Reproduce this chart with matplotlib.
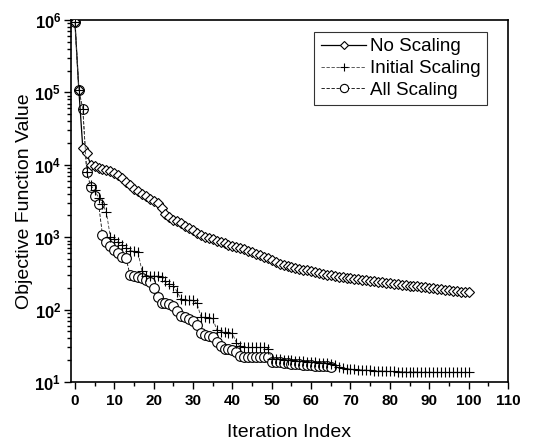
import numpy as np
import matplotlib
matplotlib.use('Agg')
import matplotlib.pyplot as plt
from matplotlib.ticker import LogLocator, FixedLocator, FuncFormatter, NullFormatter

plt.rcParams['font.family'] = ['Liberation Sans', 'DejaVu Sans']
plt.rcParams['mathtext.fontset'] = 'custom'
plt.rcParams['mathtext.rm'] = 'Liberation Sans'
plt.rcParams['mathtext.bf'] = 'Liberation Sans:bold'

# values
no_scaling = [9.5e5, 1.07e5, 1.7e4, 1.45e4, 1.0e4, 9.5e3, 9.0e3, 8.7e3, 8.5e3, 8.2e3,
              7.8e3, 7.2e3, 6.5e3, 5.8e3, 5.2e3, 4.7e3, 4.3e3, 4.0e3, 3.7e3, 3.4e3,
              3.2e3, 3.0e3, 2.5e3, 2.1e3, 1.9e3, 1.75e3, 1.65e3, 1.55e3, 1.45e3, 1.35e3,
              1.25e3, 1.15e3, 1.08e3, 1.02e3, 980, 940, 900, 860, 820, 790,
              760, 730, 700, 680, 650, 620, 590, 565, 540, 515,
              490, 460, 430, 415, 400, 390, 378, 367, 357, 347,
              338, 330, 320, 310, 302, 296, 290, 285, 280, 275,
              270, 266, 262, 258, 254, 250, 246, 242, 238, 234,
              230, 227, 224, 221, 218, 215, 212, 209, 206, 203,
              200, 197, 194, 191, 188, 185, 182, 179, 177, 176, 175]

initial_scaling = [9.5e5, 1.07e5, 5.9e4, 7.9e3, 5.2e3, 4.5e3, 3.5e3, 2.9e3, 2.2e3, 1.0e3,
                   950, 850, 780, 720, 650, 640, 630, 345, 290, 290,
                   290, 290, 285, 245, 225, 215, 175, 138, 136, 136,
                   134, 122, 80, 78, 77, 76, 53, 49, 49, 48,
                   47, 35, 31, 30, 30, 30, 30, 30, 30, 29,
                   21, 20.7, 20.5, 20.3, 20.1, 19.9, 19.7, 19.5, 19.3, 19.1,
                   18.9, 18.7, 18.5, 18.3, 18.1, 17.9, 17.0, 16.3, 15.8, 15.3,
                   15.0, 14.9, 14.8, 14.7, 14.6, 14.5, 14.4, 14.3, 14.2, 14.1,
                   14.0, 14.0, 13.9, 13.9, 13.8, 13.8, 13.8, 13.7, 13.7, 13.7,
                   13.7, 13.6, 13.6, 13.6, 13.6, 13.6, 13.6, 13.6, 13.6, 13.6, 13.6]

all_scaling = [9.5e5, 1.07e5, 5.9e4, 7.9e3, 5.0e3, 3.7e3, 2.9e3, 1.07e3, 870, 760,
               665, 600, 535, 510, 300, 290, 280, 270, 260, 240,
               197, 150, 124, 122, 118, 112, 95, 82, 78, 74,
               70, 61, 47, 45, 43, 42, 36, 31, 29, 29,
               28, 26, 22.5, 22, 22, 22, 22, 22, 22, 22,
               19, 18.8, 18.6, 18.4, 18.2, 18.0, 17.8, 17.6, 17.4, 17.2,
               17.0, 16.8, 16.7, 16.5, 16.4, 16.3]

fig = plt.figure(figsize=(5.33, 4.43), dpi=100)
ax = fig.add_axes([0.1332, 0.1377, 0.8198, 0.8172])

ax.plot(np.arange(len(no_scaling)), no_scaling, color='k', lw=0.9, marker='D', ms=4.6,
        mfc='white', mec='k', mew=0.8, label='No Scaling', zorder=3)
ax.plot(np.arange(len(initial_scaling)), initial_scaling, color='0.25', lw=0.6, ls=(0, (4, 2)),
        marker='+', ms=7, mec='k', mew=0.8, label='Initial Scaling', zorder=4)
ax.plot(np.arange(len(all_scaling)), all_scaling, color='k', lw=0.6, ls=(0, (4, 2)), marker='o', ms=7,
        mfc='white', mec='k', mew=0.8, label='All Scaling', zorder=2)

ax.set_yscale('log')
ax.set_xlim(-1, 110)
ax.set_ylim(10, 1e6)

ax.xaxis.set_major_locator(FixedLocator(np.arange(0, 111, 10)))
ax.xaxis.set_minor_locator(FixedLocator(np.arange(5, 110, 10)))
ax.yaxis.set_major_locator(LogLocator(base=10, numticks=10))
ax.yaxis.set_minor_locator(LogLocator(base=10, subs=np.arange(2, 10), numticks=10))
ax.yaxis.set_minor_formatter(NullFormatter())
ax.yaxis.set_major_formatter(FuncFormatter(lambda v, p: r'$\mathbf{10^{%d}}$' % round(np.log10(v))))

ax.tick_params(which='both', direction='out', top=False, right=False, width=1.0)
ax.tick_params(which='major', length=5)
ax.tick_params(axis='x', which='major', labelsize=11)
ax.tick_params(axis='y', which='major', labelsize=12, pad=2)
ax.tick_params(which='minor', length=3)
for lab in ax.get_xticklabels():
    lab.set_fontweight('bold')
for s in ax.spines.values():
    s.set_linewidth(1.2)

ax.set_xlabel('Iteration Index', fontsize=14, labelpad=12)
ax.set_ylabel('Objective Function Value', fontsize=14)
ax.yaxis.set_label_coords(-0.088, 0.5)

leg = ax.legend(loc='upper right', bbox_to_anchor=(0.952, 0.968), borderaxespad=0,
                fontsize=13.5, frameon=True, fancybox=False, edgecolor='k',
                handlelength=2.4, handletextpad=0.2, borderpad=0.35, labelspacing=0.25,
                markerscale=0.85)
leg.get_frame().set_linewidth(0.8)

fig.savefig('out.png', dpi=100)
